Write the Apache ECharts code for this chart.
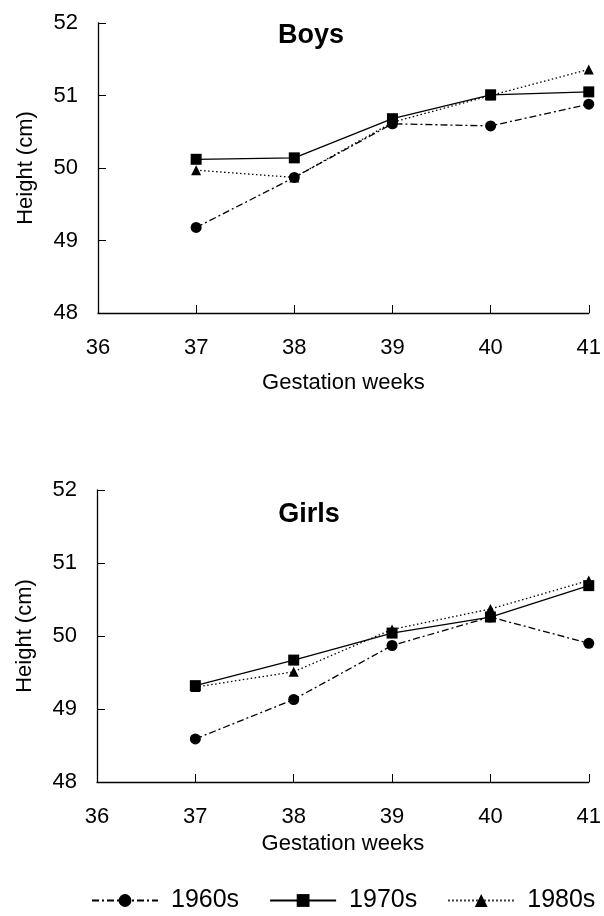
<!DOCTYPE html>
<html>
<head>
<meta charset="utf-8">
<script src="https://cdn.jsdelivr.net/npm/echarts@6/dist/echarts.min.js"></script>
<style>
  html, body { margin: 0; padding: 0; background: #fff; }
  #main { width: 604px; height: 916px; }
</style>
</head>
<body>
<div id="main"></div>
<script>
    // gestation weeks (x) and height in cm (y)
    var weeks = [37, 38, 39, 40, 41];
    var yTicks = [48, 49, 50, 51, 52];
    var xTicks = [36, 37, 38, 39, 40, 41];
    var decades = ['1960s', '1970s', '1980s'];

    var boys1960 = [49.18, 49.87, 50.61, 50.58, 50.88];
    var boys1970 = [50.12, 50.14, 50.68, 51.01, 51.05];
    var boys1980 = [49.97, 49.87, 50.63, 51.00, 51.36];

    var girls1960 = [48.59, 49.13, 49.87, 50.26, 49.90];
    var girls1970 = [49.32, 49.67, 50.04, 50.26, 50.69];
    var girls1980 = [49.30, 49.51, 50.09, 50.37, 50.76];

    var font = 'Liberation Sans, Arial, sans-serif';
    var myChart = echarts.init(document.getElementById('main'));

    function pairs(vals) {
        return weeks.map(function (w, i) { return [w, vals[i]]; });
    }

    var styles = {
        '1960s': { symbol: 'circle', size: 11, type: [7, 3, 2, 3] },
        '1970s': { symbol: 'rect', size: 11, type: 'solid' },
        '1980s': { symbol: 'triangle', size: 10, type: [1.5, 2.5] }
    };

    function makeSeries(name, vals, idx) {
        return {
            name: name,
            type: 'line',
            xAxisIndex: idx,
            yAxisIndex: idx,
            data: pairs(vals),
            symbol: styles[name].symbol,
            symbolSize: styles[name].size,
            showAllSymbol: true,
            lineStyle: { color: '#000', width: 1.3, type: styles[name].type },
            itemStyle: { color: '#000' },
            animation: false,
            z: name === '1970s' ? 3 : 2
        };
    }

    function xAxisOf(idx, gap) {
        return {
            type: 'value',
            gridIndex: idx,
            min: xTicks[0],
            max: xTicks[xTicks.length - 1],
            interval: 1,
            name: 'Gestation weeks',
            nameLocation: 'middle',
            nameGap: gap,
            nameTextStyle: { fontFamily: font, fontSize: 22, color: '#000' },
            axisLine: { lineStyle: { color: '#000', width: 1.3 } },
            axisTick: { inside: true, length: 8, lineStyle: { color: '#000' } },
            axisLabel: { fontFamily: font, fontSize: 22, color: '#000', margin: 24 },
            splitLine: { show: false }
        };
    }

    function yAxisOf(idx) {
        return {
            type: 'value',
            gridIndex: idx,
            min: yTicks[0],
            max: yTicks[yTicks.length - 1],
            interval: 1,
            name: 'Height (cm)',
            nameLocation: 'middle',
            nameGap: 61,
            nameTextStyle: { fontFamily: font, fontSize: 22, color: '#000' },
            axisLine: { show: true, lineStyle: { color: '#000', width: 1.3 } },
            axisTick: { show: true, inside: true, length: 8, lineStyle: { color: '#000' } },
            axisLabel: { fontFamily: font, fontSize: 22, color: '#000', margin: 20 },
            splitLine: { show: false }
        };
    }

    var option = {
        backgroundColor: '#fff',
        title: [
            { text: 'Boys', left: 306, top: 17, textAlign: 'center',
              textStyle: { fontFamily: font, fontSize: 27, fontWeight: 'bold', color: '#000' } },
            { text: 'Girls', left: 304, top: 496, textAlign: 'center',
              textStyle: { fontFamily: font, fontSize: 27, fontWeight: 'bold', color: '#000' } }
        ],
        legend: {
            data: decades,
            left: 86,
            top: 883,
            itemWidth: 66,
            itemHeight: 16,
            itemGap: 30,
            textStyle: { fontFamily: font, fontSize: 25, color: '#000', padding: [0, 0, 0, 8] },
            selectedMode: false
        },
        grid: [
            { left: 98, width: 496, top: 23, height: 290 },
            { left: 97, width: 497, top: 490, height: 292 }
        ],
        xAxis: [xAxisOf(0, 59), xAxisOf(1, 51)],
        yAxis: [yAxisOf(0), yAxisOf(1)],
        series: [
            makeSeries('1960s', boys1960, 0),
            makeSeries('1970s', boys1970, 0),
            makeSeries('1980s', boys1980, 0),
            makeSeries('1960s', girls1960, 1),
            makeSeries('1970s', girls1970, 1),
            makeSeries('1980s', girls1980, 1)
        ]
    };
    myChart.setOption(option);
</script>
</body>
</html>
